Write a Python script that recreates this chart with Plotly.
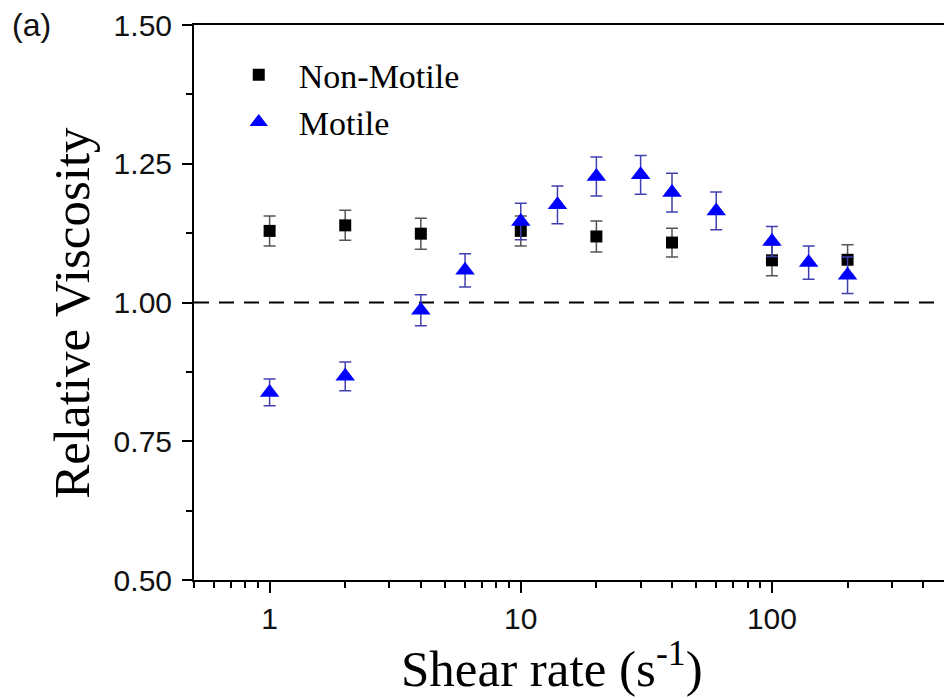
import plotly.graph_objects as go
import math

# ---- data ----
shear_nonmotile = [1, 2, 4, 10, 20, 40, 100, 200]
visc_nonmotile = [1.129, 1.139, 1.124, 1.129, 1.119, 1.108, 1.076, 1.077]
err_nonmotile = [0.027, 0.027, 0.028, 0.027, 0.028, 0.026, 0.028, 0.027]

shear_motile = [1, 2, 4, 6, 10, 14, 20, 30, 40, 60, 100, 140, 200]
visc_motile = [0.838, 0.867, 0.986, 1.058, 1.146, 1.176, 1.227, 1.230, 1.198, 1.165, 1.110, 1.072, 1.049]
err_motile = [0.024, 0.026, 0.028, 0.030, 0.033, 0.034, 0.035, 0.035, 0.035, 0.034, 0.027, 0.030, 0.033]

x_major_ticks = [1, 10, 100]
y_ticks = [0.50, 0.75, 1.00, 1.25, 1.50]
y_tick_labels = ["0.50", "0.75", "1.00", "1.25", "1.50"]
reference_level = 1.0

x_minor_ticks = [m * 10 ** e for e in range(-1, 3) for m in range(2, 10)]

fig = go.Figure()

fig.add_trace(go.Scatter(
    x=shear_nonmotile, y=visc_nonmotile, mode="markers", name="Non-Motile",
    marker=dict(symbol="square", size=12, color="black"),
    error_y=dict(type="data", array=err_nonmotile, visible=True,
                 color="#555555", thickness=1.5, width=6),
))
fig.add_trace(go.Scatter(
    x=shear_motile, y=visc_motile, mode="markers", name="Motile",
    marker=dict(symbol="triangle-up", size=17, color="#0000ff"),
    error_y=dict(type="data", array=err_motile, visible=True,
                 color="#4040b0", thickness=1.5, width=6),
))

fig.add_shape(type="line", xref="paper", x0=0, x1=1, yref="y",
              y0=reference_level, y1=reference_level,
              line=dict(color="black", width=2.2, dash="15px,10px"), layer="below")

fig.update_layout(
    width=944, height=698,
    margin=dict(l=194, r=0, t=25, b=118),
    plot_bgcolor="white", paper_bgcolor="white",
    showlegend=True,
    legend=dict(x=0.033, y=0.962, xanchor="left", yanchor="top",
                font=dict(family="Liberation Serif", size=34, color="black"),
                bgcolor="rgba(0,0,0,0)", itemsizing="trace", itemwidth=70,
                tracegroupgap=0),
    xaxis=dict(
        type="log", range=[math.log10(0.5), 2.685],
        tickmode="array", tickvals=x_major_ticks, ticktext=["1", "10", "100"],
        ticks="outside", ticklen=11, tickwidth=1.5, tickcolor="black",
        showline=True, linecolor="black", linewidth=2, mirror=True,
        showgrid=False, zeroline=False,
        tickfont=dict(family="Liberation Sans", size=30, color="#111111"),
        minor=dict(tickmode="array", tickvals=x_minor_ticks, ticks="outside",
                   ticklen=6, tickwidth=1.5, tickcolor="black", showgrid=False),
    ),
    yaxis=dict(
        range=[0.5, 1.5],
        tickmode="array", tickvals=y_ticks, ticktext=y_tick_labels,
        ticks="outside", ticklen=10, tickwidth=1.5, tickcolor="black",
        showline=True, linecolor="black", linewidth=2, mirror=False,
        showgrid=False, zeroline=False,
        ticklabelstandoff=4,
        tickfont=dict(family="Liberation Sans", size=30, color="#111111"),
        minor=dict(dtick=0.125, ticks="outside", ticklen=6, tickwidth=1.5,
                   tickcolor="black", showgrid=False),
    ),
    annotations=[
        dict(text="Shear rate (s<sup>-1</sup>)", xref="paper", yref="paper",
             x=0.477, y=-0.092, xanchor="center", yanchor="top", showarrow=False,
             font=dict(family="Liberation Serif", size=51, color="black")),
        dict(text="Relative Viscosity", xref="paper", yref="paper",
             x=-0.163, y=0.481, xanchor="center", yanchor="middle", showarrow=False,
             textangle=-90,
             font=dict(family="Liberation Serif", size=51, color="black")),
        dict(text="(a)", xref="paper", yref="paper",
             x=-0.245, y=1.0, xanchor="left", yanchor="middle", showarrow=False,
             font=dict(family="Liberation Sans", size=32, color="#111111")),
    ],
)

fig.write_html("out.html", post_script="document.body.style.margin='0px';",
               config={"displayModeBar": False})
